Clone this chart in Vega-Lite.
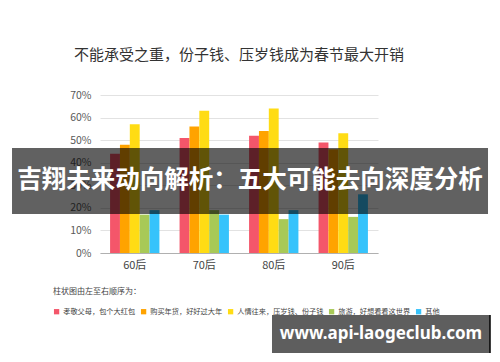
{
  "$schema": "https://vega.github.io/schema/vega-lite/v6.json",
  "width": 278,
  "height": 158,
  "autosize": "none",
  "padding": {"left": 100, "top": 95, "right": 122, "bottom": 109},
  "background": "white",
  "config": {"font": "Noto Sans CJK SC", "view": {"stroke": null}},
  "title": {
    "text": "不能承受之重，份子钱、压岁钱成为春节最大开销",
    "fontSize": 15,
    "fontWeight": "normal",
    "color": "#333333",
    "anchor": "middle",
    "offset": 27
  },
  "datasets": {
    "bars": [
      {"group": "60后", "series": "孝敬父母，包个大红包", "value": 0.44},
      {"group": "60后", "series": "购买年货，好好过大年", "value": 0.48},
      {"group": "60后", "series": "人情往来，压岁钱、份子钱", "value": 0.57},
      {"group": "60后", "series": "旅游，好想看看这世界", "value": 0.17},
      {"group": "60后", "series": "其他", "value": 0.19},
      {"group": "70后", "series": "孝敬父母，包个大红包", "value": 0.51},
      {"group": "70后", "series": "购买年货，好好过大年", "value": 0.56},
      {"group": "70后", "series": "人情往来，压岁钱、份子钱", "value": 0.63},
      {"group": "70后", "series": "旅游，好想看看这世界", "value": 0.19},
      {"group": "70后", "series": "其他", "value": 0.17},
      {"group": "80后", "series": "孝敬父母，包个大红包", "value": 0.52},
      {"group": "80后", "series": "购买年货，好好过大年", "value": 0.54},
      {"group": "80后", "series": "人情往来，压岁钱、份子钱", "value": 0.64},
      {"group": "80后", "series": "旅游，好想看看这世界", "value": 0.15},
      {"group": "80后", "series": "其他", "value": 0.19},
      {"group": "90后", "series": "孝敬父母，包个大红包", "value": 0.49},
      {"group": "90后", "series": "购买年货，好好过大年", "value": 0.46},
      {"group": "90后", "series": "人情往来，压岁钱、份子钱", "value": 0.53},
      {"group": "90后", "series": "旅游，好想看看这世界", "value": 0.16},
      {"group": "90后", "series": "其他", "value": 0.26}
    ],
    "banner": [
      {"x1": -0.3165, "x2": 1.3957, "y1": 0.465, "y2": 0.173, "tx": 0.5396, "ty": 0.319, "label": "吉翔未来动向解析：五大可能去向深度分析"}
    ],
    "watermark": [
      {"x1": 0.6187, "x2": 1.4029, "y1": -0.2747, "y2": -0.4431, "tx": 1.0108, "ty": -0.3589, "label": "www.api-laogeclub.com"}
    ]
  },
  "layer": [
    {
      "data": {"name": "bars"},
      "mark": {"type": "bar"},
      "encoding": {
        "x": {
          "field": "group", "type": "nominal",
          "sort": ["60后", "70后", "80后", "90后"],
          "scale": {"paddingInner": 0.29, "paddingOuter": 0.145},
          "axis": {"title": null, "labelAngle": 0, "labelFontSize": 11, "labelColor": "#444444", "domainColor": "#b0b0b0", "ticks": false, "labelPadding": 6, "grid": false}
        },
        "xOffset": {
          "field": "series", "type": "nominal",
          "sort": ["孝敬父母，包个大红包", "购买年货，好好过大年", "人情往来，压岁钱、份子钱", "旅游，好想看看这世界", "其他"],
          "scale": {"paddingInner": 0, "paddingOuter": 0}
        },
        "y": {
          "field": "value", "type": "quantitative",
          "scale": {"domain": [0, 0.7], "nice": false},
          "axis": {"title": null, "format": ".0%", "values": [0, 0.1, 0.2, 0.3, 0.4, 0.5, 0.6, 0.7], "domain": false, "ticks": false, "labelFontSize": 10.5, "labelColor": "#595959", "labelPadding": 9, "gridColor": "#e2e2e2"}
        },
        "color": {
          "field": "series", "type": "nominal",
          "scale": {
            "domain": ["孝敬父母，包个大红包", "购买年货，好好过大年", "人情往来，压岁钱、份子钱", "旅游，好想看看这世界", "其他"],
            "range": ["#f4566a", "#ffa300", "#ffdc14", "#a8c957", "#36c3fb"]
          },
          "legend": {
            "title": "柱状图由左至右顺序为：",
            "orient": "none", "legendX": -47, "legendY": 193,
            "direction": "horizontal", "columns": 5,
            "titleFontSize": 8, "titleFontWeight": "normal", "titleColor": "#444444", "titlePadding": 12,
            "labelFontSize": 7.2, "labelColor": "#444444", "labelOffset": 3,
            "symbolType": "square", "symbolSize": 28, "symbolStrokeWidth": 0, "columnPadding": 4
          }
        }
      }
    },
    {
      "data": {"name": "banner"},
      "mark": {"type": "rect", "color": "black", "opacity": 0.62},
      "encoding": {
        "x": {"field": "x1", "type": "quantitative", "scale": {"domain": [0, 1], "nice": false, "zero": false}, "axis": null},
        "x2": {"field": "x2"},
        "y": {"field": "y1", "type": "quantitative", "scale": {"domain": [0, 0.7], "nice": false}, "axis": null},
        "y2": {"field": "y2"}
      }
    },
    {
      "data": {"name": "banner"},
      "mark": {"type": "text", "color": "white", "fontSize": 24.5, "fontWeight": "bold", "align": "center", "baseline": "middle"},
      "encoding": {
        "x": {"field": "tx", "type": "quantitative", "scale": {"domain": [0, 1], "nice": false, "zero": false}, "axis": null},
        "y": {"field": "ty", "type": "quantitative", "scale": {"domain": [0, 0.7], "nice": false}, "axis": null},
        "text": {"field": "label"}
      }
    },
    {
      "data": {"name": "watermark"},
      "mark": {"type": "rect", "color": "black", "opacity": 0.63},
      "encoding": {
        "x": {"field": "x1", "type": "quantitative", "scale": {"domain": [0, 1], "nice": false, "zero": false}, "axis": null},
        "x2": {"field": "x2"},
        "y": {"field": "y1", "type": "quantitative", "scale": {"domain": [0, 0.7], "nice": false}, "axis": null},
        "y2": {"field": "y2"}
      }
    },
    {
      "data": {"name": "watermark"},
      "mark": {"type": "rule", "color": "black", "strokeWidth": 1.5},
      "encoding": {
        "x": {"field": "x2", "type": "quantitative", "scale": {"domain": [0, 1], "nice": false, "zero": false}, "axis": null},
        "y": {"field": "y1", "type": "quantitative", "scale": {"domain": [0, 0.7], "nice": false}, "axis": null},
        "y2": {"field": "y2"}
      }
    },
    {
      "data": {"name": "watermark"},
      "mark": {"type": "text", "color": "white", "fontSize": 17, "fontWeight": "bold", "font": "Noto Sans", "align": "center", "baseline": "middle"},
      "encoding": {
        "x": {"field": "tx", "type": "quantitative", "scale": {"domain": [0, 1], "nice": false, "zero": false}, "axis": null},
        "y": {"field": "ty", "type": "quantitative", "scale": {"domain": [0, 0.7], "nice": false}, "axis": null},
        "text": {"field": "label"}
      }
    }
  ],
  "resolve": {"scale": {"x": "independent", "y": "independent"}}
}
